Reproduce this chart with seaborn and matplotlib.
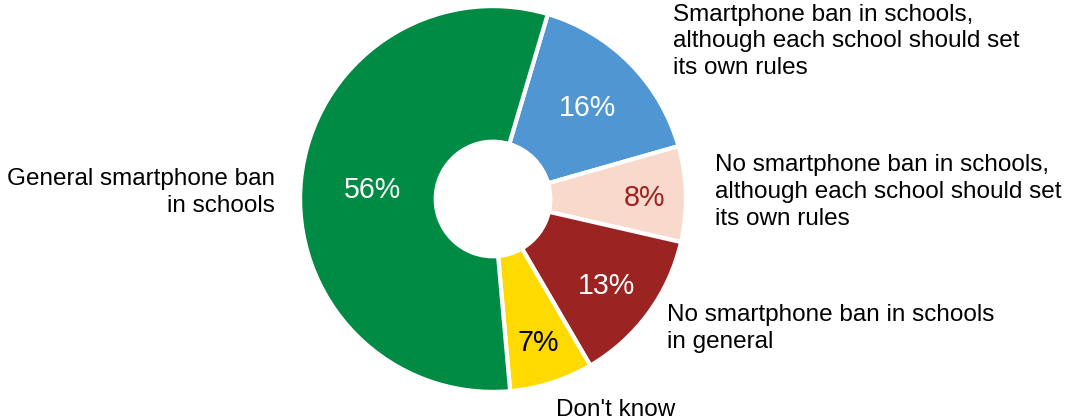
import matplotlib
matplotlib.use('Agg')
import matplotlib.pyplot as plt
import seaborn as sns
import numpy as np

# data
categories = ['Smartphone ban in schools,\nalthough each school should set\nits own rules',
              'No smartphone ban in schools,\nalthough each school should set\nits own rules',
              'No smartphone ban in schools\nin general',
              "Don't know",
              'General smartphone ban\nin schools']
shares = [16, 8, 13, 7, 56]

# styles
colors = ['#4F96D3', '#F9D9CC', '#9B2321', '#FFDA00', '#008B44']
pct_colors = ['white', '#9B2321', 'white', 'black', 'white']
pct_dist = [0.696, 0.796, 0.740, 0.774, 0.632]
# label anchors (x, baseline of last line, ha) in pie units
label_pos = [(0.942, 0.654, 'left'), (1.162, -0.136, 'left'), (0.911, -0.780, 'left'),
             (0.330, -1.136, 'left'), (-1.141, -0.068, 'right')]

sns.set_theme(style='white')
plt.rcParams['font.family'] = ['Liberation Sans', 'DejaVu Sans']

fig = plt.figure(figsize=(10.72, 4.19), dpi=100)
ax = fig.add_axes([0, 0, 1, 1])

wedges, texts, autotexts = ax.pie(
    shares, colors=colors, startangle=73.5, counterclock=False,
    radius=1.01, autopct='%d%%',
    wedgeprops=dict(width=0.71, edgecolor='white', linewidth=3),
    textprops=dict(fontsize=20.6))

for w, t, c, d in zip(wedges, autotexts, pct_colors, pct_dist):
    mid = np.deg2rad((w.theta1 + w.theta2) / 2)
    t.set_position((d * np.cos(mid), d * np.sin(mid)))
    t.set_color(c)
    t.set_ha('center')
    t.set_va('center_baseline')

for lab, (x, y, ha) in zip(categories, label_pos):
    ax.text(x, y, lab, ha=ha, va='baseline', fontsize=17.5, color='black',
            linespacing=1.28)

cx, cy, r = 493, 199, 191
ax.set_xlim(-cx / r, (1072 - cx) / r)
ax.set_ylim(-(419 - cy) / r, cy / r)
ax.axis('off')

fig.savefig('out.png', dpi=100)
